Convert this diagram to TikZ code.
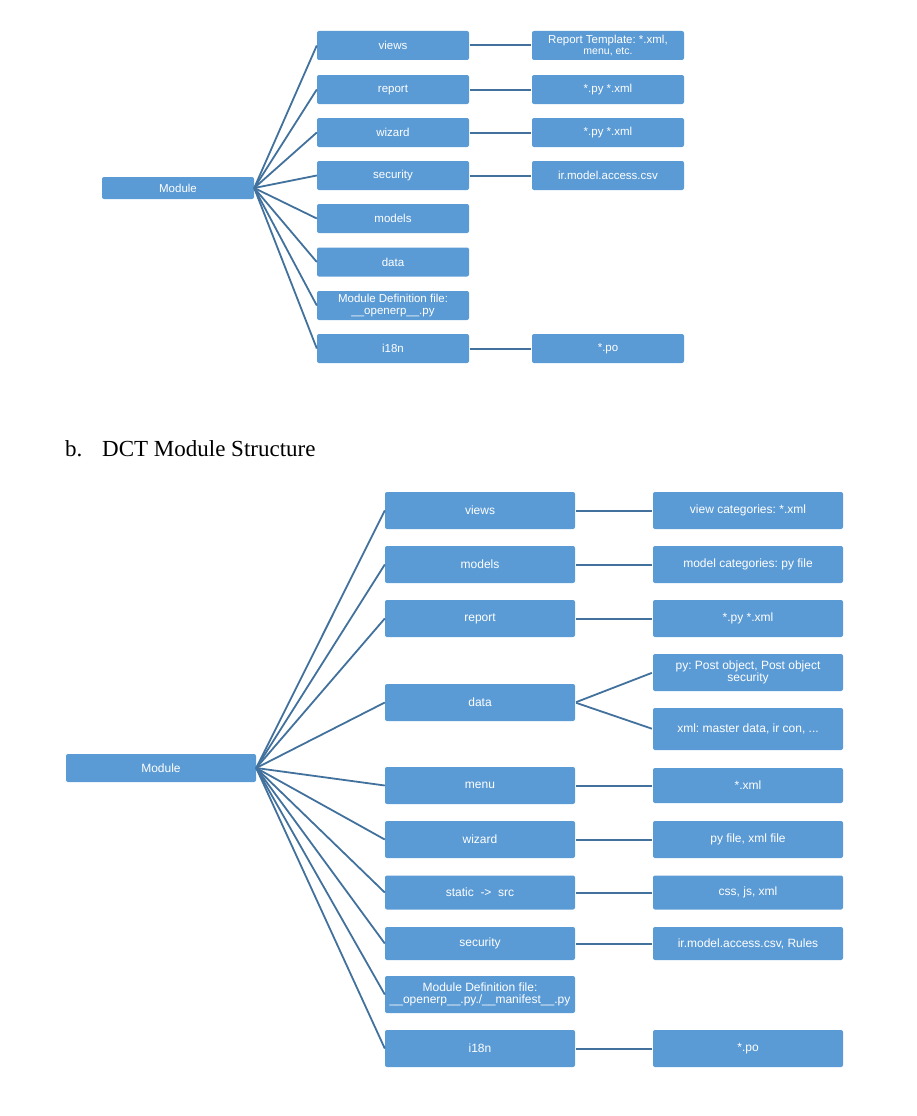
\documentclass[tikz,border=0pt]{standalone}
\usepackage{fontspec}
\setmainfont{Liberation Sans}
\newfontfamily\headfont{Liberation Serif}
\frenchspacing
\definecolor{boxblue}{HTML}{5B9BD5}
\definecolor{lineblue}{HTML}{41719C}
\tikzset{
    box/.style={fill=boxblue, rounded corners=2pt, text=white, align=center, inner sep=1pt},
    smallbox/.style={box, minimum width=152pt, minimum height=29pt, font=\fontsize{11.5}{11.5}\selectfont},
    bigbox/.style={box, minimum width=190pt, minimum height=37pt, font=\fontsize{12}{11.5}\selectfont},
    link/.style={draw=lineblue, line width=1.8pt},
    side/.style={link, line width=2pt, shorten <=1pt, shorten >=1pt},
}
\begin{document}
\begin{tikzpicture}[x=1pt, y=-1pt]
    \useasboundingbox (0, 0) rectangle (916, 1116);

    %%first structure
        \node[smallbox, minimum height=22pt] (mod) at(178, 188){Module};
        \node[smallbox] (views) at(393, 45.5){views};
        \node[smallbox] (report) at(393, 89.5){report};
        \node[smallbox] (wizard) at(393, 132.5){wizard};
        \node[smallbox] (security) at(393, 175.5){security};
        \node[smallbox] (models) at(393, 218.5){models};
        \node[smallbox] (data) at(393, 262){data};
        \node[smallbox] (moddef) at(393, 305.5){Module Definition file:\\\_\_openerp\_\_.py};
        \node[smallbox] (lang) at(393, 348.5){i18n};

        \node[smallbox] (viewsfile) at(608, 45.5){Report Template: *.xml,\\{\fontsize{10.5}{10.5}\selectfont menu, etc.}};
        \node[smallbox] (reportfile) at(608, 89.5){*.py *.xml};
        \node[smallbox] (wizardfile) at(608, 132.5){*.py *.xml};
        \node[smallbox] (securityfile) at(608, 175.5){ir.model.access.csv};
        \node[smallbox] (langfile) at(608, 348.5){*.po};

        \draw[link] (mod.east) to (views.west);
        \draw[link] (mod.east) to (report.west);
        \draw[link] (mod.east) to (wizard.west);
        \draw[link] (mod.east) to (security.west);
        \draw[link] (mod.east) to (models.west);
        \draw[link] (mod.east) to (data.west);
        \draw[link] (mod.east) to (moddef.west);
        \draw[link] (mod.east) to (lang.west);

        \draw[side] (views.east) to (viewsfile.west);
        \draw[side] (report.east) to (reportfile.west);
        \draw[side] (wizard.east) to (wizardfile.west);
        \draw[side] (security.east) to (securityfile.west);
        \draw[side] (lang.east) to (langfile.west);

    %%heading
        \node[anchor=base west, inner sep=0pt, font=\headfont\fontsize{23}{27}\selectfont] (title) at(65, 456){\makebox[37pt][l]{b.}DCT Module Structure};

    %%DCT structure
        \node[bigbox, minimum height=28pt] (dmod) at(161, 768){Module};
        \node[bigbox] (dviews) at(480, 510.5){views};
        \node[bigbox] (dmodels) at(480, 564.5){models};
        \node[bigbox] (dreport) at(480, 618.5){report};
        \node[bigbox] (ddata) at(480, 702.5){data};
        \node[bigbox] (dmenu) at(480, 785.5){menu};
        \node[bigbox] (dwizard) at(480, 839.5){wizard};
        \node[bigbox, minimum height=34pt] (dstatic) at(480, 892.5){static\ \ ->\ \ src};
        \node[bigbox, minimum height=33pt] (dsecurity) at(480, 943.5){security};
        \node[bigbox] (dmoddef) at(480, 994.5){Module Definition file:\\\_\_openerp\_\_.py./\_\_manifest\_\_.py};
        \node[bigbox] (dlang) at(480, 1048.5){i18n};

        \node[bigbox] (dviewsfile) at(748, 510.5){view categories: *.xml};
        \node[bigbox] (dmodelsfile) at(748, 564.5){model categories: py file};
        \node[bigbox] (dreportfile) at(748, 618.5){*.py *.xml};
        \node[bigbox] (dpyfile) at(748, 672.5){py: Post object, Post object\\security};
        \node[bigbox, minimum height=42pt] (dxmlfile) at(748, 729){xml: master data, ir con, ...};
        \node[bigbox, minimum height=35pt] (dmenufile) at(748, 785.5){*.xml};
        \node[bigbox] (dwizardfile) at(748, 839.5){py file, xml file};
        \node[bigbox, minimum height=34pt] (dstaticfile) at(748, 892.5){css, js, xml};
        \node[bigbox, minimum height=33pt] (dsecurityfile) at(748, 943.5){ir.model.access.csv, Rules};
        \node[bigbox] (dlangfile) at(748, 1048.5){*.po};

        \draw[link] (dmod.east) to (dviews.west);
        \draw[link] (dmod.east) to (dmodels.west);
        \draw[link] (dmod.east) to (dreport.west);
        \draw[link] (dmod.east) to (ddata.west);
        \draw[link] (dmod.east) to (dmenu.west);
        \draw[link] (dmod.east) to (dwizard.west);
        \draw[link] (dmod.east) to (dstatic.west);
        \draw[link] (dmod.east) to (dsecurity.west);
        \draw[link] (dmod.east) to (dmoddef.west);
        \draw[link] (dmod.east) to (dlang.west);

        \draw[side] (dviews.east) to (dviewsfile.west);
        \draw[side] (dmodels.east) to (dmodelsfile.west);
        \draw[side] (dreport.east) to (dreportfile.west);
        \draw[link, shorten <=1pt, shorten >=1pt] (ddata.east) to (dpyfile.west);
        \draw[link, shorten <=1pt, shorten >=1pt] (ddata.east) to (dxmlfile.west);
        \draw[side] (dmenu.east) to (dmenufile.west);
        \draw[side] (dwizard.east) to (dwizardfile.west);
        \draw[side] (dstatic.east) to (dstaticfile.west);
        \draw[side] (dsecurity.east) to (dsecurityfile.west);
        \draw[side] (dlang.east) to (dlangfile.west);
\end{tikzpicture}
\end{document}
